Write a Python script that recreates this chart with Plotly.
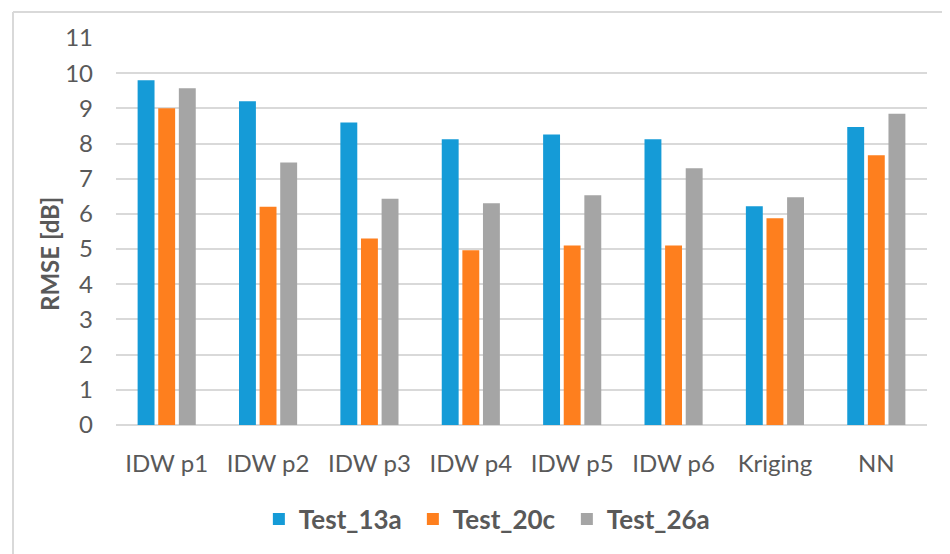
import plotly.graph_objects as go

categories = ["IDW p1", "IDW p2", "IDW p3", "IDW p4", "IDW p5", "IDW p6", "Kriging", "NN"]
test_13a = [9.8, 9.2, 8.6, 8.12, 8.26, 8.12, 6.22, 8.47]
test_20c = [9.0, 6.2, 5.3, 4.97, 5.1, 5.1, 5.88, 7.67]
test_26a = [9.57, 7.46, 6.43, 6.3, 6.53, 7.3, 6.47, 8.85]
y_ticks = list(range(0, 12))

series = [
    ("Test_13a", test_13a, "#159BD7"),
    ("Test_20c", test_20c, "#FE7F1E"),
    ("Test_26a", test_26a, "#A5A5A5"),
]

FONT = "Lato, Liberation Sans, sans-serif"
TXT = "#595959"

fig = go.Figure()
for name, vals, col in series:
    fig.add_trace(go.Bar(x=categories, y=vals, name=name,
                         marker=dict(color=col, line=dict(width=0))))

OFF = 8  # page body margin
W, H = 950 - OFF, 554 - OFF
L, T = 116 - OFF, 38 - OFF
R = W - (927 - OFF)
B = H - (425 - OFF)
pw, ph = W - L - R, H - T - B


def px(xp):
    return (xp - OFF - L) / pw


def py(yp):
    return (H - B - (yp - OFF)) / ph


fig.update_layout(
    width=W, height=H,
    margin=dict(l=L, r=R, t=T, b=B),
    paper_bgcolor="white", plot_bgcolor="white",
    barmode="group", bargap=0.39, bargroupgap=0.18,
    font=dict(family=FONT, color=TXT, size=24),
    showlegend=True,
    legend=dict(orientation="h", x=0.461, xanchor="center", y=py(519), yanchor="middle",
                font=dict(family=FONT, size=26, color=TXT, weight="bold"),
                entrywidth=109, itemwidth=30, traceorder="normal"),
    xaxis=dict(showgrid=False, showline=False, ticks="", ticklabelstandoff=22,
               tickfont=dict(family=FONT, size=24, color=TXT)),
    yaxis=dict(range=[0, 11], tickvals=y_ticks, showgrid=True, gridcolor="#D9D9D9",
               gridwidth=2, zeroline=True, zerolinecolor="#D9D9D9", zerolinewidth=2,
               showline=False, ticks="", ticklabelstandoff=22,
               tickfont=dict(family=FONT, size=24, color=TXT)),
    shapes=[
        dict(type="line", xref="paper", yref="paper",
             x0=px(13), x1=px(960), y0=py(12), y1=py(12),
             line=dict(color="#D9D9D9", width=2)),
        dict(type="line", xref="paper", yref="paper",
             x0=px(13), x1=px(13), y0=py(12), y1=py(570),
             line=dict(color="#D9D9D9", width=2)),
    ],
    annotations=[
        dict(text="<b>RMSE [dB]</b>", xref="paper", yref="paper",
             x=px(49), y=py(254), xanchor="center", yanchor="middle",
             textangle=-90, showarrow=False,
             font=dict(family=FONT, size=24, color=TXT)),
    ],
)

fig.write_html("out.html")
